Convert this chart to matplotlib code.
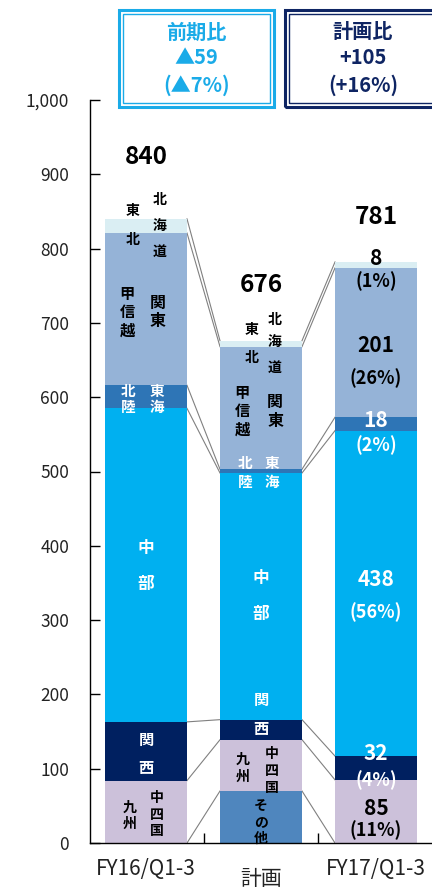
import numpy as np
import matplotlib
matplotlib.use("Agg")
import matplotlib.pyplot as plt
from matplotlib.patches import Rectangle

plt.rcParams['font.family'] = ['Noto Sans CJK JP', 'DejaVu Sans']

# ---------------------------------------------------------------
# data (stacked from the bottom up)
# ---------------------------------------------------------------
periods = ['FY16/Q1-3', '計画', 'FY17/Q1-3']
segments = ['その他', '九州中四国', '関西', '中部', '北陸東海', '関東甲信越', '北海道東北']
other = [0, 70, 0]
kyushu = [84, 69, 85]
kansai = [79, 27, 32]
chubu = [422, 332, 438]
hokuriku = [31, 5, 18]
kanto = [205, 165, 201]
hokkaido = [19, 8, 8]
totals = [840, 676, 781]
fy17_pct = ['(11%)', '(4%)', '(56%)', '(2%)', '(26%)', '(1%)']

colors = ['#4F86BE', '#CCC1DA', '#002060', '#00B0F0', '#2E75B6', '#95B3D7', '#DAEEF3']

W, H = 432, 893
fig = plt.figure(figsize=(W / 100, H / 100), dpi=100)
ax = fig.add_axes([90 / W, 50 / H, 1 - 90 / W, 743 / H])

x = np.arange(len(periods))
bw = 0.713
stack = np.array([other, kyushu, kansai, chubu, hokuriku, kanto, hokkaido], dtype=float)
bottoms = np.vstack([np.zeros(3), np.cumsum(stack, axis=0)])

for i, vals in enumerate(stack):
    ax.bar(x, vals, bw, bottom=bottoms[i], color=colors[i], linewidth=0, zorder=2)

# connector lines between neighbouring bars at each boundary
for k in range(1, len(bottoms)):
    for j in range(len(periods) - 1):
        ax.plot([x[j] + bw / 2, x[j + 1] - bw / 2], [bottoms[k][j], bottoms[k][j + 1]],
                color='#808080', lw=0.8, zorder=1)

ax.set_xlim(-0.487, 2.487)
ax.set_ylim(0, 1000)
ax.set_yticks(np.arange(0, 1001, 100))
ax.set_yticklabels([f'{v:,}' for v in range(0, 1001, 100)], fontsize=12.5, color='#222222')
ax.set_xticks([0.5, 1.5])
ax.set_xticklabels([])
ax.tick_params(axis='y', direction='in', length=7, width=1, pad=15)
ax.tick_params(axis='x', direction='in', length=7, width=1)
for s in ['top', 'right']:
    ax.spines[s].set_visible(False)
for s in ['left', 'bottom']:
    ax.spines[s].set_linewidth(1)

# category names below the axis
ax.text(0, -35, periods[0], ha='center', va='center', fontsize=15, color='#222222')
ax.text(1, -48, periods[1], ha='center', va='center', fontsize=15, color='#222222')
ax.text(2, -35, periods[2], ha='center', va='center', fontsize=15, color='#222222')

# totals
tot_y = [923, 751, 843]
for j in range(3):
    ax.text(x[j], tot_y[j], str(totals[j]), ha='center', va='center',
            fontsize=17.5, fontweight='bold', color='black', zorder=5)


def vtext(xc, ys, chars, color='black', size=11):
    for yy, ch in zip(ys, chars):
        ax.text(xc, yy, ch, ha='center', va='center', fontsize=size,
                fontweight='bold', color=color, zorder=5)


# FY16 region names
vtext(0.122, [865, 829, 795], '北海道', size=10)
vtext(-0.113, [851, 812], '東北', size=10)
vtext(-0.165, [739, 715, 690], '甲信越', size=11)
vtext(0.104, [727, 703], '関東', size=11.5)
vtext(-0.157, [608, 587], '北陸', 'white', 10.5)
vtext(0.096, [608, 587], '東海', 'white', 10.5)
vtext(0, [397, 349], '中部', 'white', 12)
vtext(0, [139, 101], '関西', 'white')
vtext(-0.14, [47, 26], '九州', size=10)
vtext(0.096, [60, 38, 16], '中四国', size=10)

# plan region names
vtext(1.122, [704, 673, 639], '北海道', size=10)
vtext(0.922, [690, 653], '東北', size=10)
vtext(0.835, [606, 581, 556], '甲信越', size=11)
vtext(1.122, [593, 568], '関東', size=11.5)
vtext(0.861, [512, 486], '北陸', 'white', 10.5)
vtext(1.096, [512, 486], '東海', 'white', 10.5)
vtext(1, [357, 308], '中部', 'white', 12)
vtext(1, [192, 153], '関西', 'white')
vtext(0.843, [112, 89], '九州', size=10)
vtext(1.096, [120, 97, 74], '中四国', size=10)
vtext(1, [50, 28, 6], 'その他', size=10)

# FY17 values with shares
val_y = [47, 121, 354, 569, 670, 787]
pct_y = [17, 85, 311, 536, 626, 756]
txt_col = ['black', 'white', 'white', 'white', 'black', 'black']
for i in range(6):
    ax.text(2, val_y[i], str(int(stack[i + 1][2])), ha='center', va='center',
            fontsize=15, fontweight='bold', color=txt_col[i], zorder=5)
    ax.text(2, pct_y[i], fy17_pct[i], ha='center', va='center',
            fontsize=13, fontweight='bold', color=txt_col[i], zorder=5)


# comparison boxes at the top
def fbox(x0, y0, x1, y1, color, lw):
    r = Rectangle((x0 / W, 1 - y1 / H), (x1 - x0) / W, (y1 - y0) / H,
                  transform=fig.transFigure, fill=False, edgecolor=color, lw=lw)
    fig.add_artist(r)


boxes = [
    (118.5, 9.5, 274, 107, '#1AABE8', ['前期比', '▲59', '(▲7%)']),
    (284.5, 9.5, 442, 107, '#0F2563', ['計画比', '+105', '(+16%)']),
]
for x0, y0, x1, y1, c, lines in boxes:
    fbox(x0, y0, x1, y1, c, 2.2)
    fbox(x0 + 4, y0 + 4, x1 - 4, y1 - 4, c, 1.0)
    cx = (x0 + x1) / 2 if x1 < W else 363
    for yy, t in zip([32, 58, 85], lines):
        fig.text(cx / W, 1 - yy / H, t, ha='center', va='center', fontsize=14.5,
                 fontweight='bold', color=c)

fig.savefig('out.png', dpi=100)
